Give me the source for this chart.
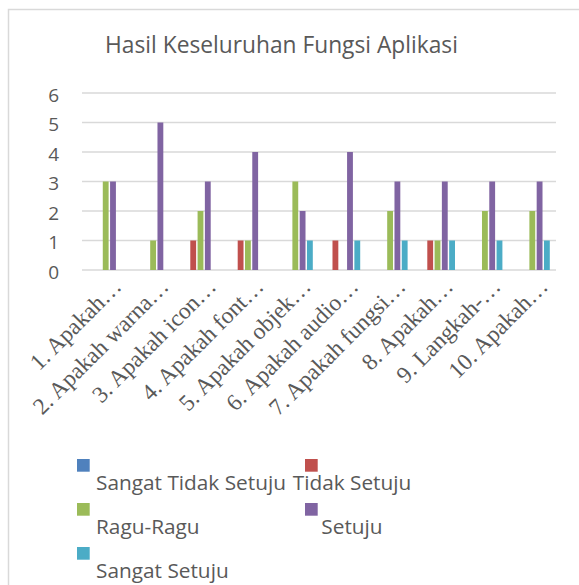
<!DOCTYPE html>
<html>
<head>
<meta charset="utf-8">
<script src="https://cdn.jsdelivr.net/npm/d3@7"></script>
<style>
  body { margin: 0; background: #fff; }
</style>
</head>
<body>
<div id="chart"></div>
<script>
const chartTitle = 'Hasil Keseluruhan Fungsi Aplikasi';
const categories = [
  '1. Apakah…',
  '2. Apakah warna…',
  '3. Apakah icon…',
  '4. Apakah font…',
  '5. Apakah objek…',
  '6. Apakah audio…',
  '7. Apakah fungsi…',
  '8. Apakah…',
  '9. Langkah-…',
  '10. Apakah…',
];
const seriesNames = ['Sangat Tidak Setuju', 'Tidak Setuju', 'Ragu-Ragu', 'Setuju', 'Sangat Setuju'];
const sangatTidakSetuju = [0, 0, 0, 0, 0, 0, 0, 0, 0, 0];
const tidakSetuju = [0, 0, 1, 1, 0, 1, 0, 1, 0, 0];
const raguRagu = [3, 1, 2, 1, 3, 0, 2, 1, 2, 2];
const setuju = [3, 5, 3, 4, 2, 4, 3, 3, 3, 3];
const sangatSetuju = [0, 0, 0, 0, 1, 1, 1, 1, 1, 1];
const yTicks = [0, 1, 2, 3, 4, 5, 6];
const seriesColors = ['#4F81BD', '#C0504D', '#9BBB59', '#8064A2', '#4BACC6'];

const allSeries = [sangatTidakSetuju, tidakSetuju, raguRagu, setuju, sangatSetuju];

const width = 579;
const height = 585;
const margin = { top: 93, right: 23, bottom: 315, left: 82 };
const textColor = '#595959';
const gridColor = '#d9d9d9';

const svg = d3
  .select('#chart')
  .append('svg')
  .attr('width', width)
  .attr('height', height);

// outer chart frame (runs off the right/bottom edge like the source)
svg
  .append('rect')
  .attr('x', 8.5)
  .attr('y', 9.5)
  .attr('width', 700)
  .attr('height', 700)
  .attr('fill', 'none')
  .attr('stroke', gridColor)
  .attr('stroke-width', 1.5);

// scale a font size so the text reaches a given width
const fitText = (sel, target) => {
  const w = sel.node().getComputedTextLength();
  return parseFloat(sel.attr('font-size')) * target / w;
};

const title = svg
  .append('text')
  .attr('x', 281.5)
  .attr('y', 53)
  .attr('text-anchor', 'middle')
  .attr('font-family', 'Open Sans')
  .attr('font-size', 20)
  .attr('fill', textColor)
  .text(chartTitle);
title.attr('font-size', fitText(title, 353));

const x0 = d3
  .scaleBand()
  .domain(categories)
  .range([margin.left, width - margin.right]);

const x1 = d3
  .scaleBand()
  .domain(seriesNames)
  .range([0, x0.bandwidth()])
  .paddingInner(0.2)
  .paddingOuter(0.85);

const y = d3
  .scaleLinear()
  .domain([0, 6])
  .range([height - margin.bottom + 0, margin.top]);

// gridlines
svg
  .append('g')
  .selectAll('line')
  .data(yTicks)
  .join('line')
  .attr('x1', margin.left)
  .attr('x2', width - margin.right)
  .attr('y1', (d) => y(d))
  .attr('y2', (d) => y(d))
  .attr('stroke', gridColor)
  .attr('stroke-width', 1.4);

// y tick labels
svg
  .append('g')
  .selectAll('text')
  .data(yTicks)
  .join('text')
  .attr('x', 59)
  .attr('y', (d) => y(d) + 2)
  .attr('dy', '0.35em')
  .attr('text-anchor', 'end')
  .attr('font-family', 'Open Sans')
  .attr('font-size', 19)
  .attr('fill', textColor)
  .text((d) => d);

// bars
const groups = svg
  .append('g')
  .selectAll('g')
  .data(categories)
  .join('g')
  .attr('transform', (d) => `translate(${x0(d)},0)`);

groups
  .selectAll('rect')
  .data((d, i) => seriesNames.map((name, s) => ({ name, s, value: allSeries[s][i] })))
  .join('rect')
  .attr('x', (d) => x1(d.name))
  .attr('width', x1.bandwidth())
  .attr('y', (d) => y(d.value))
  .attr('height', (d) => y(0) - y(d.value))
  .attr('fill', (d) => seriesColors[d.s]);

// rotated category labels
const xLabels = svg
  .append('g')
  .selectAll('text')
  .data(categories)
  .join('text')
  .attr('transform', (d) => `translate(${x0(d) + x0.bandwidth() / 2 + 17}, 288) rotate(-45)`)
  .attr('text-anchor', 'end')
  .attr('font-family', 'Liberation Serif')
  .attr('font-size', 20)
  .attr('fill', textColor)
  .text((d) => d);
const labelSize = fitText(xLabels.filter((d, i) => i === 0), 118);
xLabels.attr('font-size', labelSize);

// legend: two columns, marker on one row, its name on the next
const legendCols = [77, 305];
const legendRows = [459, 503, 547];
const markerSize = 12.7;

const legend = svg.append('g');
const legendItems = legend
  .selectAll('g')
  .data(seriesNames)
  .join('g');

legendItems
  .append('rect')
  .attr('x', (d, i) => legendCols[i % 2])
  .attr('y', (d, i) => legendRows[Math.floor(i / 2)])
  .attr('width', markerSize)
  .attr('height', markerSize)
  .attr('fill', (d, i) => seriesColors[i]);

const legendTexts = legendItems
  .append('text')
  .attr('x', (d, i) => (i % 2 === 0 ? legendCols[0] + 19 : legendCols[1] + 47))
  .attr('y', (d, i) => legendRows[Math.floor(i / 2)] + 31)
  .attr('text-anchor', (d, i) => (i % 2 === 0 ? 'start' : 'middle'))
  .attr('font-family', 'Open Sans')
  .attr('font-size', 20)
  .attr('fill', textColor)
  .text((d) => d);
const legendSize = fitText(legendTexts.filter((d, i) => i === 0), 190);
legendTexts.attr('font-size', legendSize);
</script>
</body>
</html>
